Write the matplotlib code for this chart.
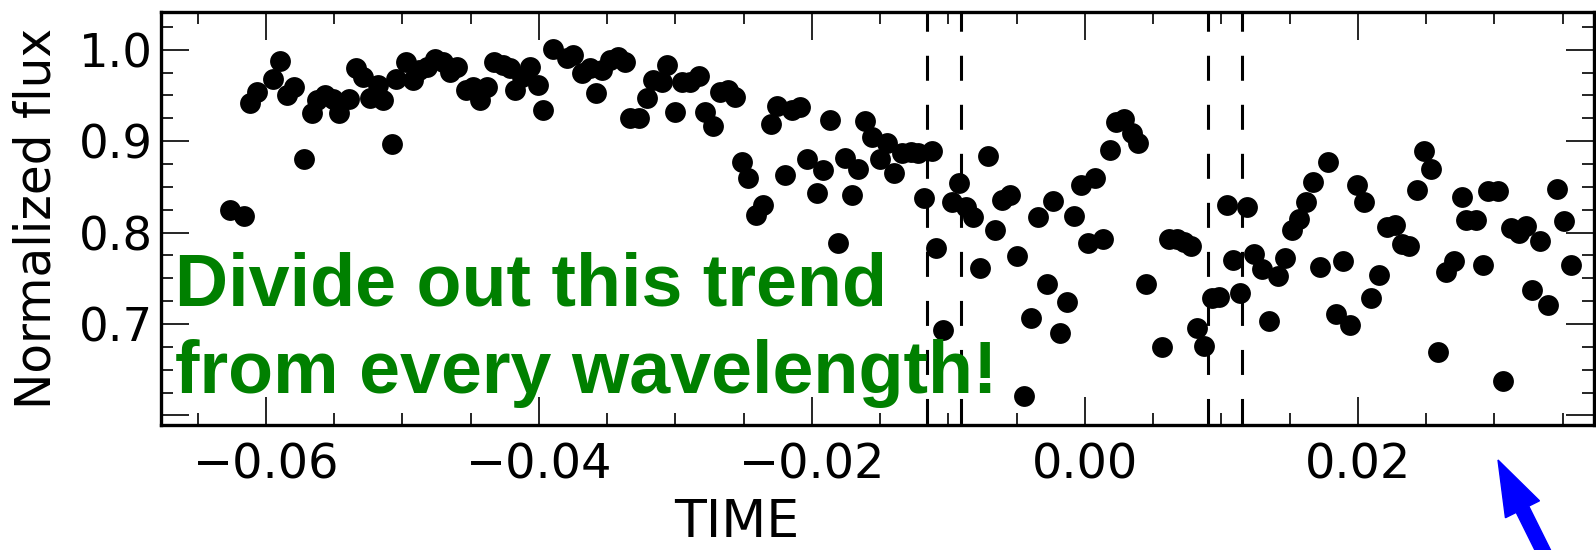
import matplotlib
matplotlib.use('Agg')
import matplotlib.pyplot as plt
from matplotlib.ticker import MultipleLocator
from matplotlib.patches import FancyArrow
from matplotlib.transforms import IdentityTransform

time = [
    -0.06264, -0.06159, -0.06117, -0.06064, -0.05947, -0.05897, -0.05844, -0.05795,
    -0.05722, -0.05665, -0.05629, -0.05568, -0.05511, -0.05463, -0.05390, -0.05341,
    -0.05287, -0.05238, -0.05177, -0.05141, -0.05079, -0.05048, -0.04974, -0.04921,
    -0.04877, -0.04823, -0.04762, -0.04701, -0.04652, -0.04603, -0.04535, -0.04486,
    -0.04432, -0.04383, -0.04330, -0.04266, -0.04212, -0.04176, -0.04127, -0.04066,
    -0.04007, -0.03971, -0.03897, -0.03797, -0.03749, -0.03687, -0.03626, -0.03582,
    -0.03541, -0.03480, -0.03419, -0.03370, -0.03333, -0.03265, -0.03207, -0.03163,
    -0.03101, -0.03060, -0.03004, -0.02955, -0.02894, -0.02826, -0.02784, -0.02728,
    -0.02674, -0.02613, -0.02564, -0.02515, -0.02467, -0.02410, -0.02357, -0.02303,
    -0.02254, -0.02198, -0.02149, -0.02088, -0.02039, -0.01966, -0.01917, -0.01868,
    -0.01812, -0.01758, -0.01709, -0.01661, -0.01612, -0.01563, -0.01502, -0.01453,
    -0.01399, -0.01343, -0.01277, -0.01221, -0.01179, -0.01121, -0.01092, -0.01040,
    -0.00977, -0.00921, -0.00872, -0.00823, -0.00769, -0.00708, -0.00659, -0.00610,
    -0.00549, -0.00500, -0.00447, -0.00398, -0.00347, -0.00281, -0.00232, -0.00183,
    -0.00130, -0.00081, -0.00029, 0.00020, 0.00073, 0.00130, 0.00183, 0.00227,
    0.00286, 0.00342, 0.00390, 0.00447, 0.00562, 0.00618, 0.00676, 0.00725,
    0.00774, 0.00823, 0.00872, 0.00928, 0.00984, 0.01038, 0.01086, 0.01136,
    0.01189, 0.01238, 0.01294, 0.01348, 0.01416, 0.01465, 0.01514, 0.01570,
    0.01619, 0.01672, 0.01722, 0.01780, 0.01840, 0.01890, 0.01944, 0.01996,
    0.02045, 0.02098, 0.02151, 0.02210, 0.02273, 0.02325, 0.02374, 0.02431,
    0.02485, 0.02538, 0.02588, 0.02645, 0.02706, 0.02760, 0.02792, 0.02866,
    0.02915, 0.02952, 0.03026, 0.03062, 0.03124, 0.03178, 0.03234, 0.03276,
    0.03333, 0.03390, 0.03456, 0.03512, 0.03561,
]

flux = [
    0.8247, 0.8182, 0.9421, 0.9542, 0.9677, 0.9877, 0.9505, 0.9596,
    0.8805, 0.9312, 0.9451, 0.9505, 0.9458, 0.9305, 0.9458, 0.9798,
    0.9706, 0.9469, 0.9615, 0.9451, 0.8966, 0.9677, 0.9870, 0.9670,
    0.9779, 0.9815, 0.9896, 0.9870, 0.9760, 0.9815, 0.9560, 0.9590,
    0.9451, 0.9590, 0.9870, 0.9834, 0.9798, 0.9560, 0.9706, 0.9815,
    0.9615, 0.9341, 1.0009, 0.9907, 0.9943, 0.9743, 0.9798, 0.9524,
    0.9779, 0.9888, 0.9925, 0.9870, 0.9251, 0.9251, 0.9469, 0.9670,
    0.9651, 0.9834, 0.9323, 0.9651, 0.9651, 0.9713, 0.9323, 0.9166,
    0.9542, 0.9560, 0.9487, 0.8776, 0.8594, 0.8193, 0.8302, 0.9188,
    0.9385, 0.8630, 0.9341, 0.9377, 0.8802, 0.8437, 0.8685, 0.9232,
    0.7883, 0.8813, 0.8411, 0.8693, 0.9224, 0.9049, 0.8802, 0.8977,
    0.8655, 0.8868, 0.8885, 0.8868, 0.8375, 0.8893, 0.7828, 0.6934,
    0.8338, 0.8546, 0.8277, 0.8167, 0.7609, 0.8841, 0.8028, 0.8357,
    0.8411, 0.7744, 0.6212, 0.7062, 0.8167, 0.7438, 0.8346, 0.6905,
    0.7237, 0.8182, 0.8521, 0.7890, 0.8594, 0.7927, 0.8904, 0.9213,
    0.9240, 0.9086, 0.8984, 0.7438, 0.6752, 0.7927, 0.7927, 0.7900,
    0.7853, 0.6953, 0.6759, 0.7281, 0.7299, 0.8302, 0.7700, 0.7342,
    0.8277, 0.7766, 0.7598, 0.7036, 0.7525, 0.7719, 0.8028, 0.8146,
    0.8338, 0.8557, 0.7627, 0.8771, 0.7109, 0.7689, 0.6993, 0.8521,
    0.8338, 0.7284, 0.7534, 0.8061, 0.8081, 0.7876, 0.7850, 0.8464,
    0.8894, 0.8695, 0.6698, 0.7570, 0.7685, 0.8387, 0.8133, 0.8133,
    0.7647, 0.8453, 0.8453, 0.6380, 0.8049, 0.7992, 0.8069, 0.7377,
    0.7904, 0.7205, 0.8479, 0.8126, 0.7647,
]

contact_times = [-0.0116, -0.0091, 0.0090, 0.0115]

xticks = [-0.06, -0.04, -0.02, 0.00, 0.02]
xtick_labels = ['\u22120.06', '\u22120.04', '\u22120.02', '0.00', '0.02']
yticks = [0.6, 0.7, 0.8, 0.9, 1.0]
ytick_labels = ['', '0.7', '0.8', '0.9', '1.0']

annotation = 'Divide out this trend\nfrom every wavelength!'

plt.rcParams['lines.scale_dashes'] = False

fig = plt.figure(figsize=(15.96, 5.5), dpi=100)
ax = fig.add_axes([0.10088, 0.2273, 0.89818, 0.7515])

ax.plot(time, flux, 'o', color='black', ms=15, mew=0, ls='none')
for t in contact_times:
    ax.axvline(t, color='black', lw=2.2, linestyle=(34.2, (18, 17.3)))

ax.set_xlim(-0.06769, 0.03733)
ax.set_ylim(0.5895, 1.0417)
ax.set_xticks(xticks, xtick_labels)
ax.set_yticks(yticks, ytick_labels)
ax.xaxis.set_minor_locator(MultipleLocator(0.005))
ax.yaxis.set_minor_locator(MultipleLocator(0.025))
ax.tick_params(which='both', direction='in', top=True, right=True)
ax.tick_params(which='major', length=20, width=1.2)
ax.tick_params(which='minor', length=8.3, width=1.2)
ax.tick_params(axis='x', labelsize=34.5, pad=12)
ax.tick_params(axis='y', labelsize=33.5, pad=5.5)
for s in ax.spines.values():
    s.set_linewidth(2.4)

ax.set_xlabel('TIME', fontsize=37.5, va='baseline')
ax.xaxis.set_label_coords(0.4016, -0.271)
ax.set_ylabel('Normalized flux', fontsize=35)
ax.yaxis.set_label_coords(-0.070, 0.5)

fig.text(175 / 1596, (550 - 393.3) / 550, annotation, color='green',
         fontsize=53, fontweight='bold', family=['Liberation Sans', 'DejaVu Sans'],
         ha='left', va='baseline', linespacing=1.35)

arrow = FancyArrow(1557.6, -30, -59.6, 120, width=14, head_width=38,
                   head_length=55, length_includes_head=True, color='blue',
                   transform=IdentityTransform())
fig.add_artist(arrow)

fig.savefig('out.png', dpi=100)
